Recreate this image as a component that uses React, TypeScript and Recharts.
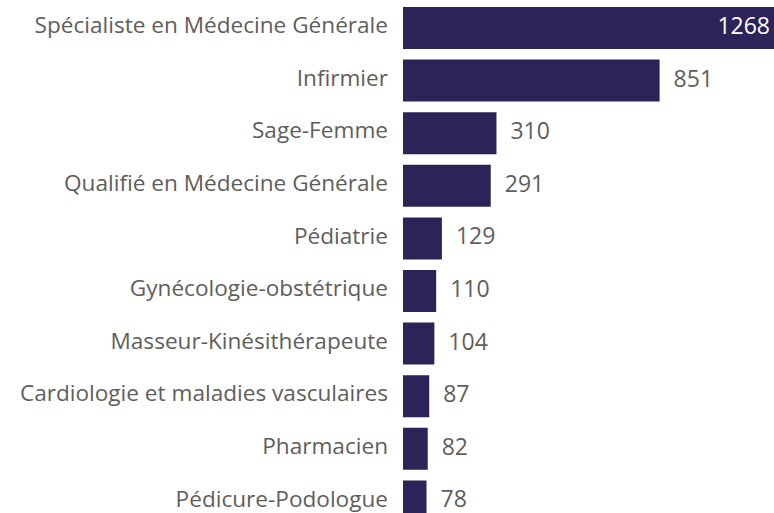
import { BarChart, Bar, XAxis, YAxis, LabelList } from "recharts";

const categories = [
  "Spécialiste en Médecine Générale",
  "Infirmier",
  "Sage-Femme",
  "Qualifié en Médecine Générale",
  "Pédiatrie",
  "Gynécologie-obstétrique",
  "Masseur-Kinésithérapeute",
  "Cardiologie et maladies vasculaires",
  "Pharmacien",
  "Pédicure-Podologue",
];
const counts = [1268, 851, 310, 291, 129, 110, 104, 87, 82, 78];

const data = categories.map((name, i) => ({ name, value: counts[i] }));

const FONT = "'Segoe UI', 'Open Sans', sans-serif";
const BAR_COLOR = "#2c2459";
const TEXT_COLOR = "#605e5c";
const VIEW_WIDTH = 774;
const maxValue = Math.max(...counts);

function CategoryTick(props: any) {
  const { x, y, payload } = props;
  return (
    <text x={x - 7} y={y - 3} dy="0.35em" textAnchor="end" fill={TEXT_COLOR} fontSize={22.6} fontFamily={FONT}>
      {payload.value}
    </text>
  );
}

function ValueLabel(props: any) {
  const { x, y, width, height, value } = props;
  const cy = y + height / 2 - 2;
  if (value === maxValue) {
    const right = Math.min(x + width, VIEW_WIDTH) - 4;
    return (
      <text x={right} y={cy} dy="0.35em" textAnchor="end" fill="#ffffff" fontSize={23} fontFamily={FONT}>
        {value}
      </text>
    );
  }
  return (
    <text x={x + width + 14} y={cy} dy="0.35em" textAnchor="start" fill={TEXT_COLOR} fontSize={23} fontFamily={FONT}>
      {value}
    </text>
  );
}

export default function App() {
  return (
    <div
      style={{
        position: "absolute",
        left: 0,
        top: 0,
        width: VIEW_WIDTH,
        height: 513,
        overflow: "hidden",
        background: "#fff",
      }}
    >
      <BarChart
        width={795}
        height={528}
        data={data}
        layout="vertical"
        margin={{ top: 2, right: 0, bottom: 0, left: 0 }}
      >
        <XAxis type="number" domain={[0, 1300]} hide />
        <YAxis
          type="category"
          dataKey="name"
          width={403}
          axisLine={false}
          tickLine={false}
          interval={0}
          tick={<CategoryTick />}
        />
        <Bar dataKey="value" fill={BAR_COLOR} barSize={42} isAnimationActive={false}>
          <LabelList dataKey="value" content={<ValueLabel />} />
        </Bar>
      </BarChart>
    </div>
  );
}
